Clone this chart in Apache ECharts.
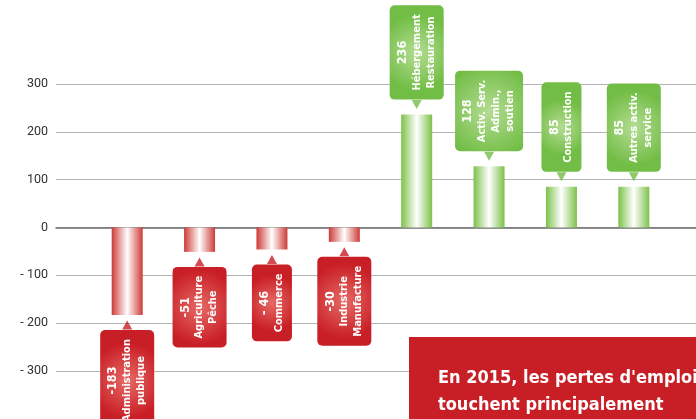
<!DOCTYPE html>
<html>
<head>
<meta charset="utf-8">
<script src="https://cdn.jsdelivr.net/npm/echarts@6/dist/echarts.min.js"></script>
<style>
  html, body { margin: 0; padding: 0; background: #fff; }
  #chart { width: 696px; height: 419px; }
</style>
</head>
<body>
<div id="chart"></div>
<script>
// secteurs (dans l'ordre du graphique)
const categories = ['Administration publique', 'Agriculture Pêche', 'Commerce', 'Industrie Manufacture',
  'Hébergement Restauration', 'Activ. Serv. Admin., soutien', 'Construction', 'Autres activ. service'];
// variation des emplois 2015
const values = [-183, -51, -46, -30, 236, 128, 85, 85];
const valueTexts = ['-183', '-51', '- 46', '-30', '236', '128', '85', '85'];
const labelLines = [
  ['Administration', 'publique'],
  ['Agriculture', 'Pêche'],
  ['Commerce'],
  ['Industrie', 'Manufacture'],
  ['Hébergement', 'Restauration'],
  ['Activ. Serv.', 'Admin.,', 'soutien'],
  ['Construction'],
  ['Autres activ.', 'service']
];
const yMin = -300, yMax = 300, yStep = 100;
const noteLines = ["En 2015, les pertes d'emplois salariés", 'touchent principalement'];

const RED = '#c81e25', GREEN = '#72bd45';
const labelFont = 'DejaVu Sans Condensed, Liberation Sans, sans-serif';

function barGradient(c) {
  return new echarts.graphic.LinearGradient(0, 0, 1, 0, [
    { offset: 0, color: c },
    { offset: 0.5, color: '#ffffff' },
    { offset: 1, color: c }
  ]);
}
function boxGradient(light, dark) {
  return new echarts.graphic.RadialGradient(0.5, 0.5, 0.7, [
    { offset: 0, color: light },
    { offset: 1, color: dark }
  ]);
}

const barData = values.map((v, i) => {
  const pos = v >= 0;
  return {
    value: v,
    itemStyle: { color: pos ? barGradient('#7cc149') : barGradient('#cd3a36') },
    label: {
      show: true,
      position: pos ? 'top' : 'bottom',
      distance: 15,
      rotate: 90,
      align: pos ? 'left' : 'right',
      verticalAlign: 'middle',
      padding: [6, 9, 6, 9],
      borderRadius: 5,
      backgroundColor: pos ? boxGradient('#b4dc93', GREEN) : boxGradient('#e66a66', RED),
      formatter: () => ['{n|' + valueTexts[i] + '}'].concat(labelLines[i].map(s => '{t|' + s + '}')).join('\n')
    }
  };
});

const pointerData = values.map((v, i) => ({
  value: [i, v],
  symbolRotate: v >= 0 ? 180 : 0,
  symbolOffset: [0, v >= 0 ? -10 : 10],
  itemStyle: { color: v >= 0 ? GREEN : RED }
}));

const chart = echarts.init(document.getElementById('chart'));
chart.setOption({
  animation: false,
  grid: [
    { left: 56, right: 0, top: 84, bottom: 48 },
    { left: 91, right: 26, top: 84, bottom: 48 }
  ],
  xAxis: [
    {
      gridIndex: 0, type: 'value', min: 0, max: 1,
      axisLine: { show: true, onZero: true, lineStyle: { color: '#6e6e6e', width: 1.5 } },
      axisTick: { show: false }, axisLabel: { show: false }, splitLine: { show: false }
    },
    {
      gridIndex: 1, type: 'category', data: categories, boundaryGap: true,
      axisLine: { show: false }, axisTick: { show: false }, axisLabel: { show: false }
    }
  ],
  yAxis: [
    {
      gridIndex: 0, type: 'value', min: yMin, max: yMax, interval: yStep,
      axisLine: { show: false }, axisTick: { show: false },
      axisLabel: {
        margin: 8, color: '#333', fontSize: 12.5, fontFamily: 'Roboto, sans-serif',
        formatter: v => v < 0 ? '- ' + (-v) : String(v)
      },
      splitLine: { lineStyle: { color: '#b4b4b4', width: 1 } }
    },
    {
      gridIndex: 1, type: 'value', min: yMin, max: yMax, interval: yStep,
      show: false, splitLine: { show: false }
    }
  ],
  series: [
    {
      type: 'bar', xAxisIndex: 1, yAxisIndex: 1, barWidth: 31,
      data: barData,
      z: 3,
      label: {
        color: '#fff',
        rich: {
          n: { color: '#fff', fontSize: 12.5, fontWeight: 'bold', fontFamily: labelFont, lineHeight: 14, align: 'center' },
          t: { color: '#fff', fontSize: 11, fontWeight: 'bold', fontFamily: labelFont, lineHeight: 14, align: 'center' }
        }
      }
    },
    {
      type: 'scatter', xAxisIndex: 1, yAxisIndex: 1,
      symbol: 'triangle', symbolSize: [10, 9],
      data: pointerData, z: 4, silent: true
    }
  ],
  graphic: [
    {
      type: 'rect', left: 409, top: 337, z: 100,
      shape: { width: 287, height: 82 },
      style: { fill: RED }
    },
    {
      type: 'text', left: 438, top: 365, z: 101,
      style: {
        text: noteLines.join('\n'), fill: '#fff',
        font: 'bold 18px ' + labelFont, lineHeight: 27
      }
    }
  ]
});
</script>
</body>
</html>
